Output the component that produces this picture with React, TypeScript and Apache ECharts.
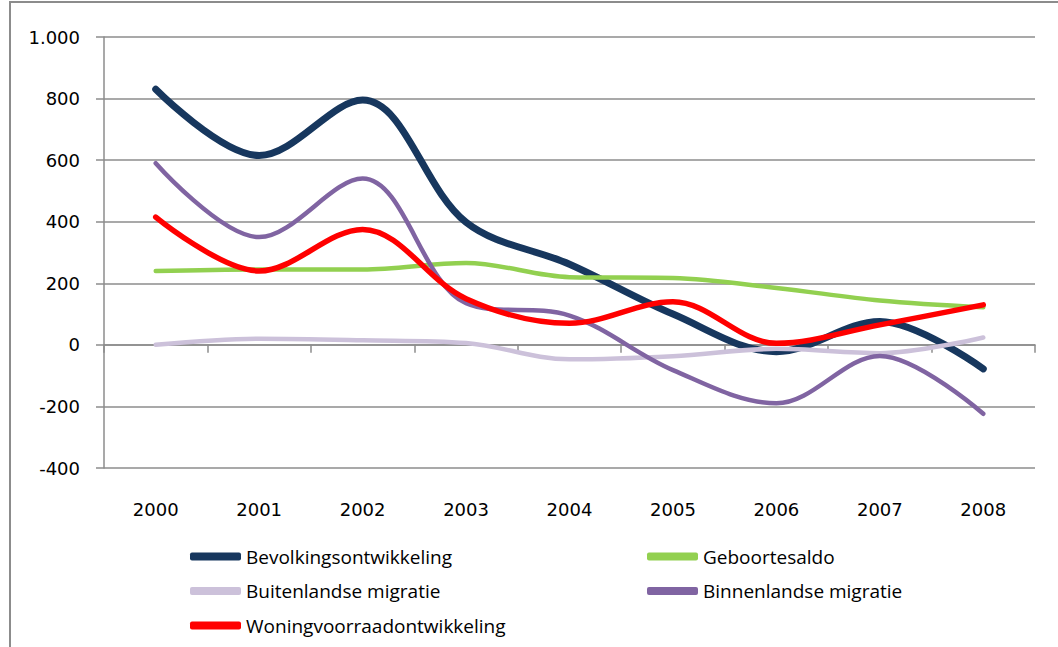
import React, { useEffect, useRef } from "react";
import * as echarts from "echarts";

const years = ["2000", "2001", "2002", "2003", "2004", "2005", "2006", "2007", "2008"];
const bevolkingsontwikkeling = [830, 615, 795, 398, 262, 100, -22, 76, -78];
const geboortesaldo = [240, 245, 245, 266, 220, 217, 185, 144, 122];
const buitenlandseMigratie = [0, 20, 15, 6, -47, -37, -13, -27, 24];
const binnenlandseMigratie = [590, 350, 540, 135, 95, -82, -190, -36, -224];
const woningvoorraad = [415, 240, 375, 150, 70, 140, 5, 65, 130];

const FONT = "Open Sans";
const AXIS_FONT = "DejaVu Sans";
const GRAY = "#8c8c8c";

export default function App() {
  const ref = useRef<HTMLDivElement>(null);
  useEffect(() => {
    if (!ref.current) return;
    const chart = echarts.init(ref.current, null, { renderer: "svg" });
    const mk = (name: string, data: number[], color: string, width: number) => ({
      name,
      type: "line",
      data,
      smooth: 0.35,
      showSymbol: false,
      symbol: "none",
      itemStyle: { color },
      lineStyle: { color, width, cap: "round", join: "round" },
      xAxisIndex: 0,
      yAxisIndex: 0,
    });
    const legendBase = {
      orient: "vertical",
      icon: "roundRect",
      itemWidth: 51,
      itemHeight: 8,
      itemGap: 15.5,
      padding: 0,
      textStyle: { fontFamily: FONT, fontSize: 19, color: "#000" },
    };
    chart.setOption({
      animation: false,
      textStyle: { fontFamily: FONT },
      grid: {
        left: 104,
        top: 37,
        right: 23,
        bottom: 179,
        containLabel: false,
        outerBoundsMode: "none",
      },
      graphic: [
        {
          type: "rect",
          shape: { x: 10, y: 2, width: 1100, height: 700 },
          style: { fill: "none", stroke: GRAY, lineWidth: 2 },
          silent: true,
        },
      ],
      legend: [
        {
          ...legendBase,
          left: 190,
          top: 547,
          data: ["Bevolkingsontwikkeling", "Buitenlandse migratie", "Woningvoorraadontwikkeling"],
        },
        {
          ...legendBase,
          left: 647,
          top: 547,
          data: ["Geboortesaldo", "Binnenlandse migratie"],
        },
      ],
      xAxis: [
        {
          type: "category",
          data: years,
          boundaryGap: true,
          position: "bottom",
          axisLine: { show: false, onZero: false },
          axisTick: { show: false },
          axisLabel: { fontFamily: AXIS_FONT, fontSize: 18, color: "#000", margin: 32 },
          splitLine: { show: false },
        },
        {
          type: "category",
          data: years,
          boundaryGap: true,
          position: "bottom",
          axisLine: { show: true, onZero: true, lineStyle: { color: GRAY, width: 1.5 } },
          axisTick: { show: true, length: 8, lineStyle: { color: GRAY, width: 1.5 } },
          axisLabel: { show: false },
          splitLine: { show: false },
        },
      ],
      yAxis: {
        type: "value",
        min: -400,
        max: 1000,
        interval: 200,
        axisLine: { show: true, lineStyle: { color: GRAY, width: 1.5 } },
        axisTick: { show: true, length: 8, lineStyle: { color: GRAY, width: 1.5 } },
        axisLabel: {
          fontFamily: AXIS_FONT,
          fontSize: 18,
          color: "#000",
          margin: 24,
          formatter: (v: number) => {
            const s = Math.abs(v).toString().replace(/\B(?=(\d{3})+(?!\d))/g, ".");
            return (v < 0 ? "-" : "") + s;
          },
        },
        splitLine: { show: true, lineStyle: { color: GRAY, width: 1.5 } },
      },
      series: [
        mk("Bevolkingsontwikkeling", bevolkingsontwikkeling, "#17375E", 7),
        mk("Geboortesaldo", geboortesaldo, "#92D050", 4.5),
        mk("Buitenlandse migratie", buitenlandseMigratie, "#CCC1DA", 4.5),
        mk("Binnenlandse migratie", binnenlandseMigratie, "#8064A2", 4.5),
        mk("Woningvoorraadontwikkeling", woningvoorraad, "#FF0000", 5.5),
      ],
    });
    return () => chart.dispose();
  }, []);
  return (
    <div
      ref={ref}
      style={{
        position: "absolute",
        left: 0,
        top: 0,
        width: 1058,
        height: 647,
        background: "#fff",
      }}
    />
  );
}
